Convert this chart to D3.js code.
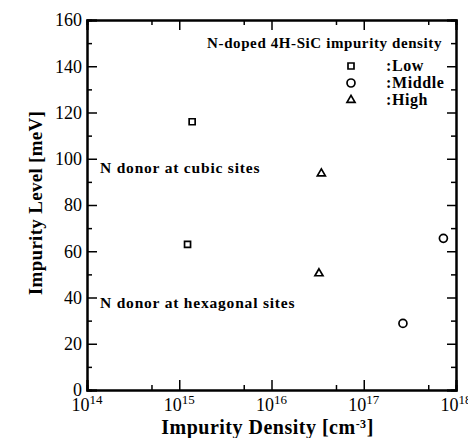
<!DOCTYPE html>
<html>
<head>
<meta charset="utf-8">
<script src="https://cdn.jsdelivr.net/npm/d3@7"></script>
<style>
  body { margin: 0; background: #fff; }
  svg { display: block; }
  svg text { font-family: 'Liberation Serif', 'DejaVu Serif', serif; fill: #000; }
  .axis path { stroke: #000; stroke-width: 2; }
  .axis line { stroke: #000; stroke-width: 1.5; }
  .axis text { font-size: 18px; }
</style>
</head>
<body>
<svg id="chart"></svg>
<script>
// data
const lowDensity = [1.38e15, 1.23e15];
const lowLevel = [116, 63];
const midDensity = [2.66e17, 7.3e17];
const midLevel = [28.8, 65.6];
const highDensity = [3.47e16, 3.27e16];
const highLevel = [93.6, 50.4];

const xDecades = [1e14, 1e15, 1e16, 1e17, 1e18];
const xExponents = ['14', '15', '16', '17', '18'];
const xMinor = [5e14, 5e15, 5e16, 5e17];
const yMajor = [0, 20, 40, 60, 80, 100, 120, 140, 160];
const yMinor = [10, 30, 50, 70, 90, 110, 130, 150];

const legendNames = [':Low', ':Middle', ':High'];
const legendShapes = ['square', 'circle', 'triangle'];

const W = 468, H = 438;
const margin = { top: 20, right: 12, bottom: 48, left: 87 };
const width = W - margin.left - margin.right;
const height = H - margin.top - margin.bottom;

const svg = d3.select('#chart').attr('width', W).attr('height', H);
const g = svg.append('g').attr('transform', `translate(${margin.left},${margin.top})`);

const x = d3.scaleLog().domain([1e14, 1e18]).range([0, width]);
const y = d3.scaleLinear().domain([0, 160]).range([height, 0]);

/* ticks (all pointing inward) */
function drawAxis(axis, transform) {
  return g.append('g').attr('class', 'axis').attr('transform', transform).call(axis)
    .attr('font-family', null).attr('font-size', null);
}
// left
drawAxis(d3.axisLeft(y).tickValues(yMajor).tickSize(-10).tickPadding(5).tickFormat(d3.format('d')), 'translate(0,0)');
drawAxis(d3.axisLeft(y).tickValues(yMinor).tickSize(-5).tickFormat(''), 'translate(0,0)');
// right
drawAxis(d3.axisRight(y).tickValues(yMajor).tickSize(-9).tickFormat(''), `translate(${width},0)`);
drawAxis(d3.axisRight(y).tickValues(yMinor).tickSize(-5).tickFormat(''), `translate(${width},0)`);
// bottom
drawAxis(d3.axisBottom(x).tickValues(xDecades).tickSize(-10).tickFormat(''), `translate(0,${height})`);
drawAxis(d3.axisBottom(x).tickValues(xMinor).tickSize(-5).tickFormat(''), `translate(0,${height})`);
// top
drawAxis(d3.axisTop(x).tickValues(xDecades).tickSize(-10).tickFormat(''), 'translate(0,0)');
drawAxis(d3.axisTop(x).tickValues(xMinor).tickSize(-5).tickFormat(''), 'translate(0,0)');

g.selectAll('.axis text').attr('dy', '0.33em');

// x tick labels with superscripts
const xl = g.append('g').attr('class', 'axis');
xDecades.forEach((d, i) => {
  const t = xl.append('text')
    .attr('x', x(d))
    .attr('y', height + 21)
    .attr('text-anchor', 'middle')
    .style('font-size', '18px');
  t.append('tspan').text('10');
  t.append('tspan').attr('dy', -7).style('font-size', '13px').text(xExponents[i]);
});

/* axis titles */
svg.append('text')
  .attr('x', margin.left + width / 2 - 4)
  .attr('y', 434)
  .attr('text-anchor', 'middle')
  .style('font-size', '20px')
  .style('font-weight', 'bold')
  .style('letter-spacing', '0.5px')
  .call(t => {
    t.append('tspan').text('Impurity Density [cm');
    t.append('tspan').attr('dy', -6).style('font-size', '12px').text('-3');
    t.append('tspan').attr('dy', 6).text(']');
  });

svg.append('text')
  .attr('transform', `translate(42,${margin.top + height / 2 - 2}) rotate(-90)`)
  .attr('text-anchor', 'middle')
  .style('font-size', '19px')
  .style('font-weight', 'bold')
  .style('letter-spacing', '0.3px')
  .text('Impurity Level [meV]');

/* markers */
const sym = {
  square: d3.symbol().type(d3.symbolSquare).size(36),
  circle: d3.symbol().type(d3.symbolCircle).size(50),
  triangle: d3.symbol().type(d3.symbolTriangle).size(28)
};

function drawSeries(xs, ys, shape) {
  g.selectAll(null)
    .data(xs.map((d, i) => [d, ys[i]]))
    .enter()
    .append('path')
    .attr('d', sym[shape])
    .attr('transform', d => `translate(${x(d[0])},${y(d[1])})`)
    .attr('fill', 'none')
    .attr('stroke', '#000')
    .attr('stroke-width', 1.7);
}
drawSeries(lowDensity, lowLevel, 'square');
drawSeries(midDensity, midLevel, 'circle');
drawSeries(highDensity, highLevel, 'triangle');

/* legend */
const legend = svg.append('g');
legend.append('text')
  .attr('x', 442)
  .attr('y', 48)
  .attr('text-anchor', 'end')
  .style('font-size', '15px')
  .style('font-weight', 'bold')
  .style('letter-spacing', '0.6px')
  .text('N-doped 4H-SiC impurity density');

legendNames.forEach((name, i) => {
  const cy = 66 + i * 17;
  legend.append('path')
    .attr('d', sym[legendShapes[i]])
    .attr('transform', `translate(351,${cy})`)
    .attr('fill', 'none')
    .attr('stroke', '#000')
    .attr('stroke-width', 1.7);
  legend.append('text')
    .attr('x', 386)
    .attr('y', cy + 5)
    .style('font-size', '16px')
    .style('font-weight', 'bold')
    .style('letter-spacing', '0.6px')
    .text(name);
});

/* annotations */
svg.append('text')
  .attr('x', 100).attr('y', 173)
  .style('font-size', '15.5px').style('font-weight', 'bold')
  .style('letter-spacing', '0.8px')
  .text('N donor at cubic sites');
svg.append('text')
  .attr('x', 100).attr('y', 308)
  .style('font-size', '15.5px').style('font-weight', 'bold')
  .style('letter-spacing', '0.8px')
  .text('N donor at hexagonal sites');
</script>
</body>
</html>
